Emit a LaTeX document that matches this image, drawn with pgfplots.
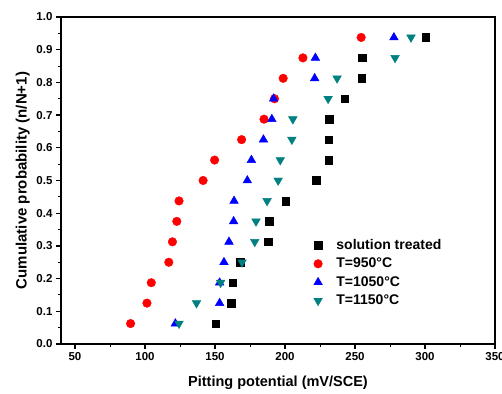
\documentclass[border=0pt]{standalone}
\usepackage{fontspec}
\setmainfont{Liberation Sans}
\usepackage{pgfplots}
\pgfplotsset{compat=1.18}
\definecolor{tealc}{RGB}{0,128,128}
\begin{document}
\begin{tikzpicture}
\useasboundingbox (-61pt,-49pt) rectangle (441pt,344pt);
\begin{axis}[
  at={(0,0)}, anchor=south west,
  scale only axis, width=434pt, height=327pt,
  xmin=40, xmax=350, ymin=0, ymax=1,
  xtick={50,100,...,350}, ytick={0,0.1,...,1.0},
  minor x tick num=1, minor y tick num=1,
  tick align=outside, axis line style={line width=1.6pt},
  major tick style={line width=1.2pt, black}, minor tick style={line width=1.0pt, black},
  major tick length=5pt, minor tick length=3pt,
  xtick pos=bottom, ytick pos=left,
  /pgf/number format/assume math mode=true,
  /pgf/number format/fixed, /pgf/number format/fixed zerofill,
  yticklabel style={/pgf/number format/precision=1},
  xticklabel style={/pgf/number format/precision=0},
  tick label style={font=\fontsize{11.5}{13}\selectfont\bfseries},
  xlabel style={font=\fontsize{14.5}{16}\selectfont\bfseries, yshift=-8pt},
  ylabel style={font=\fontsize{15}{17}\selectfont\bfseries, yshift=0pt},
  xlabel={Pitting potential (mV/SCE)},
  ylabel={Cumulative probability (n/N+1)},
  legend style={at={(0.575,0.333)}, anchor=north west, draw=none, fill=none,
    font=\fontsize{14}{16}\selectfont\bfseries, row sep=3.2pt, column sep=12pt},
  legend cell align=left,
  only marks,
]
\addplot[mark=square*, mark size=3.8pt, black, mark options={fill=black}] coordinates {
(150.6,0.0625)(161.4,0.125)(162.6,0.1875)(168.1,0.25)(188.2,0.3125)(188.9,0.375)(200.4,0.4375)(222.2,0.5)(231.2,0.5625)(231.2,0.625)(231.5,0.6875)(242.7,0.75)(254.7,0.8125)(255.2,0.875)(300.4,0.9375)};
\addlegendentry{solution treated}
\addplot[mark=*, mark size=4.3pt, red, mark options={fill=red}] coordinates {
(89.7,0.0625)(101.4,0.125)(104.5,0.1875)(117,0.25)(119.6,0.3125)(122.7,0.375)(124.3,0.4375)(141.5,0.5)(149.7,0.5625)(169,0.625)(185,0.6875)(192.5,0.75)(198.7,0.8125)(212.8,0.875)(254.4,0.9375)};
\addlegendentry{T=950°C}
\addplot[mark=triangle*, mark size=5pt, blue, mark options={fill=blue}] coordinates {
(121.7,0.0625)(153.3,0.125)(153.3,0.1875)(156.4,0.25)(160,0.3125)(163.3,0.375)(163.6,0.4375)(173.1,0.5)(176,0.5625)(184.6,0.625)(190.6,0.6875)(191.8,0.75)(221.2,0.8125)(221.7,0.875)(277.8,0.9375)};
\addlegendentry{T=1050°C}
\addplot[mark=triangle*, mark size=5pt, tealc, mark options={fill=tealc, rotate=180}] coordinates {
(124.3,0.0625)(136.8,0.125)(154,0.1875)(169.3,0.25)(178.4,0.3125)(179.3,0.375)(187.2,0.4375)(195.1,0.5)(196.6,0.5625)(204.9,0.625)(205.6,0.6875)(230.8,0.75)(237.2,0.8125)(278.6,0.875)(290,0.9375)};
\addlegendentry{T=1150°C}
\end{axis}
\end{tikzpicture}
\end{document}
